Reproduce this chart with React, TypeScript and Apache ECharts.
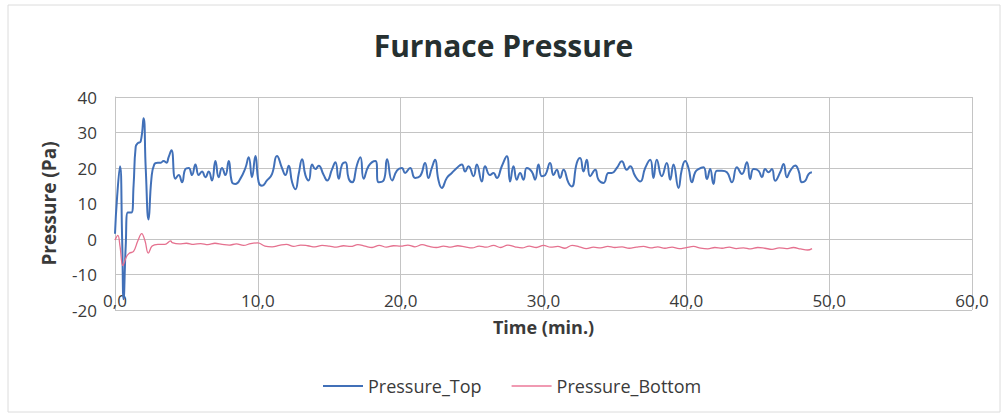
import React, { useEffect, useRef } from "react";
import * as echarts from "echarts";

const chartTitle = "Furnace Pressure";
const xAxisName = "Time (min.)";
const yAxisName = "Pressure (Pa)";
const seriesNames = ["Pressure_Top", "Pressure_Bottom"];

// [time (min), pressure (Pa)]
const pressureTop: [number, number][] = [
  [0, 1.5], [0.15, 12], [0.35, 20.5], [0.5, 0], [0.6, -17], [0.75, -2], [0.9, 7.5], [1.15, 7.5],
  [1.3, 15], [1.45, 26], [1.6, 27], [1.8, 27.5], [2.0, 34], [2.15, 20], [2.35, 5.5], [2.55, 17],
  [2.75, 21], [3.0, 21.5], [3.2, 21.5], [3.4, 22], [3.6, 21.5], [3.75, 23], [3.95, 25],
  [4.23, 17], [4.46, 18], [4.69, 16], [4.93, 19.7], [5.16, 20], [5.39, 18], [5.63, 21], [5.86, 18],
  [6.09, 19], [6.33, 17.4], [6.56, 19], [6.79, 16.5], [7.03, 22], [7.26, 17.4], [7.49, 20], [7.73, 18],
  [7.96, 22], [8.19, 16], [8.43, 15.5], [8.78, 17], [9.13, 20], [9.36, 23], [9.59, 17.4], [9.83, 23.4],
  [10.06, 16], [10.29, 15], [10.64, 16.5], [10.99, 18.3], [11.34, 23.4], [11.69, 20], [11.93, 18],
  [12.16, 20.6], [12.4, 16], [12.63, 14], [12.86, 18.3], [13.1, 22.5], [13.33, 18], [13.56, 16.5],
  [13.8, 21], [14.03, 19.7], [14.26, 20.6], [14.61, 18], [14.85, 16.5], [15.2, 19.7], [15.43, 21.6],
  [15.66, 17], [15.9, 21], [16.13, 21.6], [16.36, 17], [16.6, 16], [16.95, 21], [17.18, 23],
  [17.41, 17], [17.76, 20.6], [18.23, 22], [18.46, 16], [18.81, 16.5], [19.05, 22.5], [19.4, 16.5],
  [19.75, 19.3], [20.08, 20], [20.31, 18.6], [20.66, 20], [21.01, 17.2], [21.36, 17.7], [21.71, 21.4],
  [21.94, 17.2], [22.18, 20], [22.41, 22.3], [22.64, 16.7], [22.88, 14.4], [23.23, 17.2], [23.58, 18.6],
  [23.93, 20], [24.28, 21], [24.51, 19], [24.75, 20.5], [25.1, 17.7], [25.33, 21], [25.68, 16.2],
  [25.91, 20.5], [26.26, 18], [26.5, 18.6], [26.73, 17.2], [27.08, 20.5], [27.43, 23.3], [27.66, 16.2],
  [27.9, 20.5], [28.13, 16.7], [28.36, 18.6], [28.6, 16.7], [28.83, 20], [29.18, 19], [29.41, 16.7],
  [29.65, 21], [29.88, 17.7], [30.11, 18], [30.46, 21.4], [30.7, 18], [30.93, 19.5], [31.16, 17.2],
  [31.4, 19.5], [31.75, 15.8], [31.98, 14.8], [32.33, 21.4], [32.56, 22.8], [32.8, 19], [33.03, 22.3],
  [33.27, 17.7], [33.62, 19.5], [33.85, 16.7], [34.2, 15.8], [34.55, 18.6], [34.78, 18.6], [35.13, 20],
  [35.48, 21.9], [35.83, 19.5], [36.07, 20.5], [36.42, 17.7], [36.77, 16.2], [37.12, 20], [37.47, 22.3],
  [37.7, 17.2], [37.93, 22.3], [38.28, 17.7], [38.63, 21.4], [38.87, 16.7], [39.1, 21], [39.45, 14.4],
  [39.68, 19.5], [39.92, 22], [40.15, 20], [40.39, 16], [40.62, 18.8], [40.85, 19.7], [41.2, 20.2],
  [41.44, 16.9], [41.67, 19.7], [41.9, 15.5], [42.14, 19.2], [42.49, 19.2], [42.84, 18.8], [43.19, 16],
  [43.54, 20.2], [43.89, 18.3], [44.24, 21.6], [44.47, 16.9], [44.71, 19.7], [45.06, 19.2], [45.29, 17.4],
  [45.52, 19.7], [45.76, 18.8], [45.99, 19.7], [46.22, 16.4], [46.57, 18.8], [46.81, 21.1], [47.04, 17.4],
  [47.27, 19.2], [47.62, 20.7], [47.86, 19.2], [48.09, 16], [48.32, 16.4], [48.56, 18.3], [48.79, 18.8],
];

const pressureBottom: [number, number][] = [
  [0, -0.3], [0.2, 1], [0.35, -2], [0.55, -7.5], [0.8, -5], [1.0, -4], [1.3, -3.5], [1.6, -0.5],
  [1.87, 1.5], [2.1, -0.5], [2.33, -4], [2.6, -2], [3.0, -1.5], [3.5, -1.5], [3.9, -0.5],
  [4.0, -1.0], [4.5, -1.4], [5.0, -1.2], [5.5, -1.5], [6.0, -1.3], [6.5, -1.6], [7.0, -1.2], [7.5, -1.5],
  [8.0, -1.7], [8.5, -1.4], [9.0, -1.8], [9.5, -1.3], [10.0, -1.1], [10.5, -2.0], [11.0, -2.2], [11.5, -1.8],
  [12.0, -1.5], [12.5, -2.1], [13.0, -1.7], [13.5, -1.9], [14.0, -2.2], [14.5, -1.8], [15.0, -2.0],
  [15.5, -2.3], [16.0, -1.9], [16.5, -2.1], [17.0, -1.6], [17.5, -2.0], [18.0, -2.4], [18.5, -1.8],
  [19.0, -2.3], [19.5, -1.9], [20.0, -2.0], [20.5, -1.7], [21.0, -2.2], [21.5, -1.6], [22.0, -2.1],
  [22.5, -2.4], [23.0, -2.0], [23.5, -2.3], [24.0, -1.9], [24.5, -2.2], [25.0, -2.5], [25.5, -2.0],
  [26.0, -2.3], [26.5, -1.8], [27.0, -2.4], [27.5, -1.7], [28.0, -2.2], [28.5, -2.5], [29.0, -2.0],
  [29.5, -2.4], [30.0, -1.8], [30.5, -2.3], [31.0, -2.1], [31.5, -2.6], [32.0, -1.8], [32.5, -2.2],
  [33.0, -2.7], [33.5, -2.3], [34.0, -2.5], [34.5, -2.1], [35.0, -2.4], [35.5, -2.2], [36.0, -2.6],
  [36.5, -2.3], [37.0, -2.1], [37.5, -2.5], [38.0, -2.2], [38.5, -2.6], [39.0, -2.3], [39.5, -2.7],
  [40.0, -2.4], [40.5, -2.1], [41.0, -2.6], [41.5, -2.8], [42.0, -2.4], [42.5, -2.6], [43.0, -2.3],
  [43.5, -2.7], [44.0, -2.5], [44.5, -2.8], [45.0, -2.4], [45.5, -2.6], [46.0, -2.9], [46.5, -2.5],
  [47.0, -2.7], [47.5, -2.4], [48.0, -2.8], [48.5, -3.1], [48.8, -2.7],
];

const xMin = 0, xMax = 60, xStep = 10;
const yMin = -20, yMax = 40, yStep = 10;

const FONT = "'Open Sans'";
const TEXT = "#3a3a3a";
const GRID = "#c4c4c4";
const BLUE = "#4170b8";
const PINK = "#e5718f";

export default function App() {
  const ref = useRef<HTMLDivElement>(null);
  useEffect(() => {
    if (!ref.current) return;
    const chart = echarts.init(ref.current, undefined, { renderer: "svg" });
    chart.setOption({
      animation: false,
      backgroundColor: "#ffffff",
      title: {
        text: chartTitle,
        left: "center",
        top: 25,
        textStyle: { fontFamily: FONT, fontWeight: "bold", fontSize: 30, color: "#263030" },
      },
      grid: { left: 115, right: 35, top: 97, bottom: 109 },
      legend: {
        left: 318,
        top: 372,
        itemWidth: 40,
        itemHeight: 2,
        itemGap: 30,
        icon: "rect",
        textStyle: { fontFamily: FONT, fontSize: 18, color: TEXT },
        data: seriesNames,
      },
      xAxis: {
        type: "value",
        min: xMin,
        max: xMax,
        interval: xStep,
        name: xAxisName,
        nameLocation: "middle",
        nameGap: 8,
        nameTextStyle: { fontFamily: FONT, fontWeight: "bold", fontSize: 18, color: TEXT },
        axisLine: { show: true, lineStyle: { color: GRID, width: 1 } },
        axisTick: { show: false },
        axisLabel: {
          inside: true,
          margin: 1,
          fontFamily: FONT,
          fontSize: 17,
          color: TEXT,
          formatter: (v: number) => v.toFixed(1).replace(".", ","),
        },
        splitLine: { show: true, lineStyle: { color: GRID, width: 1 } },
      },
      yAxis: {
        type: "value",
        min: yMin,
        max: yMax,
        interval: yStep,
        name: yAxisName,
        nameLocation: "middle",
        nameGap: 57,
        nameRotate: 90,
        nameTextStyle: { fontFamily: FONT, fontWeight: "bold", fontSize: 19, color: TEXT },
        axisLine: { show: true, lineStyle: { color: GRID, width: 1 } },
        axisTick: { show: false },
        axisLabel: { margin: 18, fontFamily: FONT, fontSize: 17, color: TEXT },
        splitLine: { show: true, lineStyle: { color: GRID, width: 1 } },
      },
      series: [
        {
          name: seriesNames[0],
          type: "line",
          data: pressureTop,
          showSymbol: false,
          smooth: 0.5,
          lineStyle: { color: BLUE, width: 2 },
          itemStyle: { color: BLUE },
        },
        {
          name: seriesNames[1],
          type: "line",
          data: pressureBottom,
          showSymbol: false,
          smooth: 0.4,
          lineStyle: { color: PINK, width: 1.3 },
          itemStyle: { color: "#f09ab2" },
        },
      ],
      graphic: [
        {
          type: "rect",
          shape: { x: 8, y: 5, width: 992, height: 407 },
          style: { fill: "none", stroke: "#dcdcdc", lineWidth: 1 },
          silent: true,
        },
      ],
    });
    return () => chart.dispose();
  }, []);
  return (
    <div
      ref={ref}
      style={{ position: "absolute", left: 0, top: 0, width: 1007, height: 419 }}
    />
  );
}
